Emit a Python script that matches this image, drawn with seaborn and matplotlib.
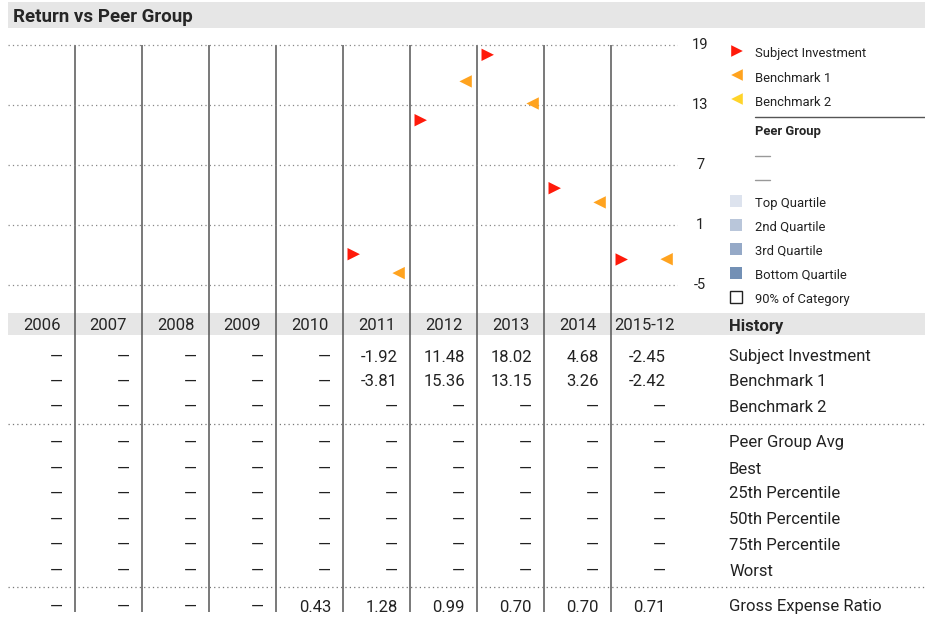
import matplotlib
matplotlib.use("Agg")
import matplotlib.pyplot as plt
import seaborn as sns
import pandas as pd

# ---------------- data ----------------
years = ["2006", "2007", "2008", "2009", "2010", "2011", "2012", "2013", "2014", "2015-12"]
subject = [None, None, None, None, None, -1.92, 11.48, 18.02, 4.68, -2.45]
bench1 = [None, None, None, None, None, -3.81, 15.36, 13.15, 3.26, -2.42]
bench2 = [None] * 10
peer_avg = [None] * 10
best = [None] * 10
pct25 = [None] * 10
pct50 = [None] * 10
pct75 = [None] * 10
worst = [None] * 10
gross_expense = [None, None, None, None, 0.43, 1.28, 0.99, 0.70, 0.70, 0.71]
y_ticks = [19, 13, 7, 1, -5]

legend_series = ["Subject Investment", "Benchmark 1", "Benchmark 2"]
legend_quartiles = ["Top Quartile", "2nd Quartile", "3rd Quartile", "Bottom Quartile", "90% of Category"]
quartile_colors = ["#dde3ee", "#b9c6da", "#95a9c7", "#7390b5", "#ffffff"]

COL_RED = "#ff1a0a"
COL_ORANGE = "#ffa31f"
COL_YELLOW = "#ffd42a"

# ---------------- style ----------------
sns.set_style("white")
FONT = ["Roboto", "DejaVu Sans"]
plt.rcParams["font.family"] = FONT
plt.rcParams["axes.unicode_minus"] = False

W, H = 925, 618
fig = plt.figure(figsize=(W / 100, H / 100), dpi=100)

# background axes in pixel coordinates
bg = fig.add_axes([0, 0, 1, 1], zorder=0)
bg.set_xlim(0, W)
bg.set_ylim(H, 0)
bg.axis("off")

X0, CW = 8, 67  # left edge of first column, column width (px)
ncol = len(years)

# title band
bg.add_patch(plt.Rectangle((8, 2), W - 8, 26, color="#e6e6e6", lw=0))
bg.text(13, 17, "Return vs Peer Group", fontsize=13.5, fontweight="bold", va="center", ha="left")

# header band
bg.add_patch(plt.Rectangle((8, 313), W - 8, 22, color="#e6e6e6", lw=0))

# vertical separators
for i in range(1, ncol):
    x = X0 + CW * i
    bg.plot([x, x], [45, 612], color="#555555", lw=1.1, solid_capstyle="butt")

# dotted separators in table
for y in (424, 587):
    bg.plot([8, W], [y, y], color="#777777", lw=0.9, linestyle=(0, (1, 2.5)))

# year headers
for i, yr in enumerate(years):
    bg.text(X0 + CW * i + CW / 2, 326, yr, fontsize=12, ha="center", va="center")
bg.text(729, 326, "History", fontsize=12, fontweight="bold", ha="left", va="center")

# table rows
rows = [
    ("Subject Investment", subject, 357),
    ("Benchmark 1", bench1, 382),
    ("Benchmark 2", bench2, 407),
    ("Peer Group Avg", peer_avg, 443),
    ("Best", best, 469),
    ("25th Percentile", pct25, 494),
    ("50th Percentile", pct50, 520),
    ("75th Percentile", pct75, 545),
    ("Worst", worst, 571),
    ("Gross Expense Ratio", gross_expense, 607),
]
for label, vals, y in rows:
    for i, v in enumerate(vals):
        txt = "—" if v is None else f"{v:.2f}"
        bg.text(X0 + CW * (i + 1) - 12, y, txt, fontsize=12, ha="right", va="center",
                color="#222222")
    bg.text(729, y, label, fontsize=12, ha="left", va="center", color="#222222")

# ---------------- chart axes ----------------
ax = fig.add_axes([X0 / W, (H - 310) / H, CW * ncol / W, 270 / H], zorder=1)
ax.patch.set_alpha(0)
ax.set_xlim(0, ncol)
ax.set_ylim(-7.5, 19.5)

df = pd.DataFrame({"idx": range(ncol), "year": years, "subject": subject, "bench1": bench1})
df_s = df.dropna(subset=["subject"]).assign(xpos=lambda d: d["idx"] + 0.16)
df_b = df.dropna(subset=["bench1"]).assign(xpos=lambda d: d["idx"] + 0.83)
sns.scatterplot(data=df_s, x="xpos", y="subject", marker=">", s=80, color=COL_RED,
                edgecolor="none", ax=ax, legend=False, zorder=3)
sns.scatterplot(data=df_b, x="xpos", y="bench1", marker="<", s=80, color=COL_ORANGE,
                edgecolor="none", ax=ax, legend=False, zorder=3)

ax.set_yticks(y_ticks)
ax.set_xticks([])
ax.set_xlabel("")
ax.set_ylabel("")
ax.grid(axis="y", color="#888888", linestyle=(0, (1, 2.5)), lw=0.9)
ax.grid(axis="x", visible=False)
ax.yaxis.tick_right()
ax.tick_params(axis="y", length=0, pad=16, labelsize=10.5, labelcolor="#222222")
for t in ax.get_yticklabels():
    t.set_ha("center")
    t.set_va("center")
for s in ax.spines.values():
    s.set_visible(False)

# ---------------- legend ----------------
leg_colors = [COL_RED, COL_ORANGE, COL_YELLOW]
leg_markers = [">", "<", "<"]
for k, (lab, c, m) in enumerate(zip(legend_series, leg_colors, leg_markers)):
    y = 54 + 24 * k
    bg.scatter([737], [y - 3], marker=m, s=70, color=c, edgecolor="none")
    bg.text(755, y, lab, fontsize=9.4, ha="left", va="center", color="#222222")
bg.plot([755, W], [117, 117], color="#555555", lw=1)
bg.text(755, 131, "Peer Group", fontsize=9.4, fontweight="bold", ha="left", va="center")
for y in (156, 180):
    bg.plot([755, 770], [y, y], color="#999999", lw=1)
for k, (lab, c) in enumerate(zip(legend_quartiles, quartile_colors)):
    y = 203 + 24 * k
    ec = "#222222" if k == 4 else "none"
    bg.add_patch(plt.Rectangle((730, y - 8), 12, 12, facecolor=c, edgecolor=ec, lw=1))
    bg.text(755, y, lab, fontsize=9.4, ha="left", va="center", color="#222222")

fig.savefig("out.png", dpi=100)
